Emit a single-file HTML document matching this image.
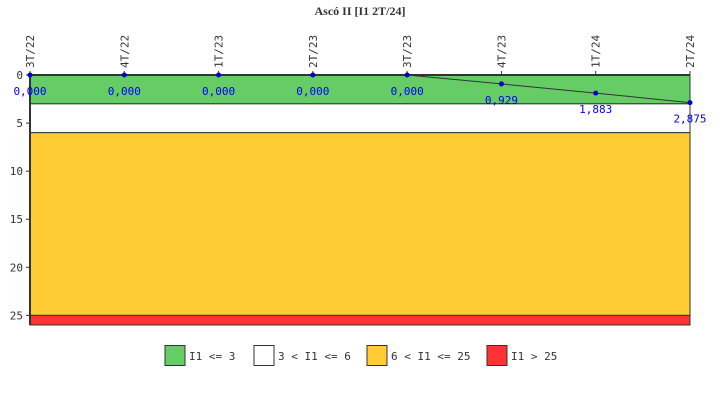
<!DOCTYPE html>
<html><head><meta charset="utf-8"><style>
body{margin:0;background:#fff;}
svg{display:block;font-family:"DejaVu Sans Mono","Liberation Mono",monospace;}
</style></head><body>
<svg id="c" width="720" height="400"></svg>
<script>
const categories=["3T/22","4T/22","1T/23","2T/23","3T/23","4T/23","1T/24","2T/24"];
const values=[0,0,0,0,0,0.929,1.883,2.875];
const labels=["0,000","0,000","0,000","0,000","0,000","0,929","1,883","2,875"];
const yTicks=[0,5,10,15,20,25];
const bandLow=[0,3,6,25];
const bandHigh=[3,6,25,26];
const bandColors=["#66cc66","#ffffff","#ffcc33","#ff3333"];
const legendLabels=["I1 <= 3","3 < I1 <= 6","6 < I1 <= 25","I1 > 25"];
const yMax=26;
const L=30,R=690,T=75,B=325;
const svg=document.getElementById('c');const NS="http://www.w3.org/2000/svg";
function x(i){return L+i*(R-L)/(categories.length-1);}
function y(v){return T+v*(B-T)/yMax;}
function el(t,a,txt){const e=document.createElementNS(NS,t);for(const k in a)e.setAttribute(k,a[k]);if(txt!==undefined)e.textContent=txt;svg.appendChild(e);return e;}
let e=el('text',{x:360,y:15,'text-anchor':'middle','font-size':12,'font-weight':'bold',fill:'#333','font-family':'Liberation Serif, serif'},'Ascó II [I1 2T/24]');


bandLow.forEach((lo,i)=>{const r=el('rect',{x:L,y:y(lo),width:R-L,height:y(bandHigh[i])-y(lo),fill:bandColors[i],stroke:'#333','stroke-width':1});

});
el('line',{x1:L,y1:T,x2:R,y2:T,stroke:'#333','stroke-width':2});
el('line',{x1:L,y1:T,x2:L,y2:B,stroke:'#333','stroke-width':2});
yTicks.forEach(v=>{el('line',{x1:L-4,y1:y(v),x2:L,y2:y(v),stroke:'#333'});
const t=el('text',{x:L-7,y:y(v)+4,'text-anchor':'end','font-size':11,fill:'#333'},v);

});
categories.forEach((c,i)=>{el('line',{x1:x(i),y1:T-4,x2:x(i),y2:T,stroke:'#333'});
const t=el('text',{x:x(i)+4,y:T-7,'font-size':11,fill:'#333',transform:`rotate(-90 ${x(i)+4} ${T-7})`},c);

});
el('polyline',{points:values.map((v,i)=>x(i)+','+y(v)).join(' '),fill:'none',stroke:'#333','stroke-width':1});
values.forEach((v,i)=>{const p=el('circle',{cx:x(i),cy:y(v),r:2.5,fill:'#0000cc'});


const t=el('text',{x:x(i),y:y(v)+20,'text-anchor':'middle','font-size':11,fill:'#0000ee'},labels[i]);

});
const lx=[165,254,367,487];
legendLabels.forEach((s,i)=>{const r=el('rect',{x:lx[i],y:345.5,width:20,height:20,fill:bandColors[i],stroke:'#333'});


const t=el('text',{x:lx[i]+24,y:360,'font-size':11,fill:'#333'},s);

});
</script>
</body></html>
